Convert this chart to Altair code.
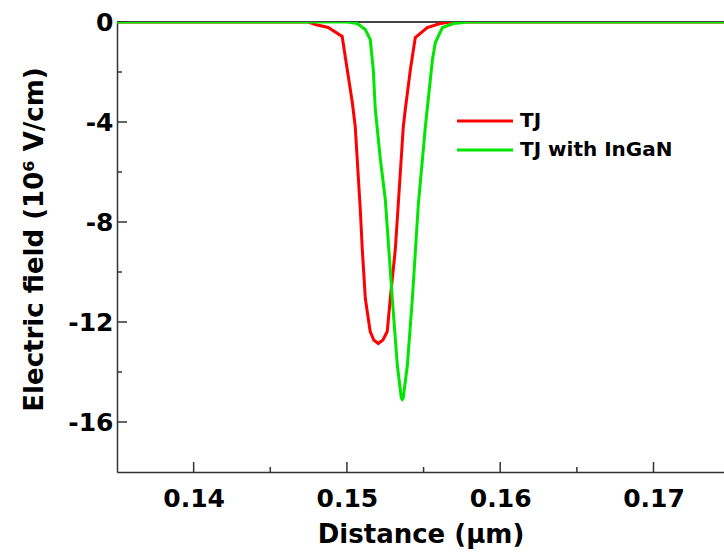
import altair as alt
import pandas as pd

# ---- data ----
tj_x = [0.135, 0.1475, 0.14793, 0.14878, 0.14969, 0.15002, 0.15035, 0.15054, 0.15087,
        0.15100, 0.15120, 0.15152, 0.15175, 0.15204, 0.15235, 0.15263, 0.15283, 0.15316,
        0.15335, 0.15368, 0.15381, 0.15414, 0.15446, 0.15524, 0.15609, 0.15675, 0.1746]
tj_y = [0, 0, -0.1, -0.22, -0.58, -1.9, -3.21, -4.17, -7.48,
        -9.07, -11.06, -12.38, -12.72, -12.86, -12.72, -12.38, -11.06, -9.07,
        -7.28, -4.17, -3.49, -1.9, -0.62, -0.22, -0.06, 0, 0]

ingan_x = [0.135, 0.1500, 0.15067, 0.15120, 0.15152, 0.15172, 0.15185, 0.15218, 0.15250,
           0.15296, 0.15329, 0.15355, 0.15361, 0.15367, 0.15394, 0.15427, 0.15466, 0.15512,
           0.15558, 0.15577, 0.15623, 0.15695, 0.1580, 0.1746]
ingan_y = [0, 0, -0.06, -0.3, -0.7, -1.9, -3.49, -5.48, -7.08,
           -11.06, -13.74, -15.05, -15.1, -15.05, -13.74, -11.06, -7.28, -4.17,
           -1.5, -0.82, -0.22, -0.06, 0, 0]

series_names = ["TJ", "TJ with InGaN"]
series_colors = ["#ff0000", "#00e600"]

x_major = [0.14, 0.15, 0.16, 0.17]
x_minor = [0.145, 0.155, 0.165]
y_major = [0, -4, -8, -12, -16]
y_minor = [-2, -6, -10, -14]

X_DOMAIN = [0.135, 0.1746]
Y_DOMAIN = [-18, 0]
W, H = 607, 450
FONT = "DejaVu Sans"

df = pd.concat([
    pd.DataFrame({"x": tj_x, "y": tj_y, "series": series_names[0], "order": range(len(tj_x))}),
    pd.DataFrame({"x": ingan_x, "y": ingan_y, "series": series_names[1], "order": range(len(ingan_x))}),
])

xs = alt.Scale(domain=X_DOMAIN, nice=False, zero=False)
ys = alt.Scale(domain=Y_DOMAIN, nice=False, zero=False)

lines = alt.Chart(df).mark_line(strokeWidth=3, clip=True).encode(
    x=alt.X("x:Q", scale=xs, title="Distance (μm)",
            axis=alt.Axis(values=x_major, format=".2f", ticks=False, grid=False,
                          labelFontSize=25, labelFontWeight="bold", labelFont=FONT,
                          labelColor="black", labelPadding=14,
                          titleFontSize=26, titleFontWeight="bold", titleFont=FONT,
                          titleColor="black", titlePadding=10,
                          domainColor="#333333", domainWidth=1.5)),
    y=alt.Y("y:Q", scale=ys, title="Electric field (10⁶ V/cm)",
            axis=alt.Axis(values=y_major, format="d", ticks=False, grid=False,
                          labelExpr="replace(datum.label, '\u2212', '-')",
                          labelFontSize=25, labelFontWeight="bold", labelFont=FONT,
                          labelColor="black", labelPadding=4,
                          titleFontSize=26, titleFontWeight="bold", titleFont=FONT,
                          titleColor="black", titlePadding=20, titleY=217,
                          domainColor="#333333", domainWidth=1.5)),
    color=alt.Color("series:N",
                    scale=alt.Scale(domain=series_names, range=series_colors),
                    legend=alt.Legend(title=None, orient="none", legendX=358, legendY=89,
                                      symbolType="M-5.6,0H5.6", symbolSize=100,
                                      symbolStrokeWidth=3, labelOffset=25,
                                      labelFontSize=20, labelFontWeight="bold",
                                      labelFont=FONT, labelColor="black",
                                      rowPadding=9, padding=0)),
    order="order:Q",
)

zero_line = alt.Chart(pd.DataFrame({"y": [0]})).mark_rule(color="#444444", strokeWidth=2).encode(
    y=alt.Y("y:Q", scale=ys))

xt_major = alt.Chart(pd.DataFrame({"x": x_major})).mark_rule(color="#333333", strokeWidth=1.5).encode(
    x=alt.X("x:Q", scale=xs), y=alt.value(H), y2=alt.value(H - 10))
xt_minor = alt.Chart(pd.DataFrame({"x": x_minor})).mark_rule(color="#333333", strokeWidth=1.5).encode(
    x=alt.X("x:Q", scale=xs), y=alt.value(H), y2=alt.value(H - 5))
yt_major = alt.Chart(pd.DataFrame({"y": y_major})).mark_rule(color="#333333", strokeWidth=1.5).encode(
    y=alt.Y("y:Q", scale=ys), x=alt.value(0), x2=alt.value(10))
yt_minor = alt.Chart(pd.DataFrame({"y": y_minor})).mark_rule(color="#333333", strokeWidth=1.5).encode(
    y=alt.Y("y:Q", scale=ys), x=alt.value(0), x2=alt.value(5))

chart = alt.layer(zero_line, xt_major, xt_minor, yt_major, yt_minor, lines).properties(
    width=W, height=H,
    autosize=alt.AutoSizeParams(type="none"),
    padding={"left": 117, "top": 22, "right": 0, "bottom": 84},
    background="white",
).configure_view(stroke=None)

chart.save("out.html", embed_options={"renderer": "svg", "actions": False})
